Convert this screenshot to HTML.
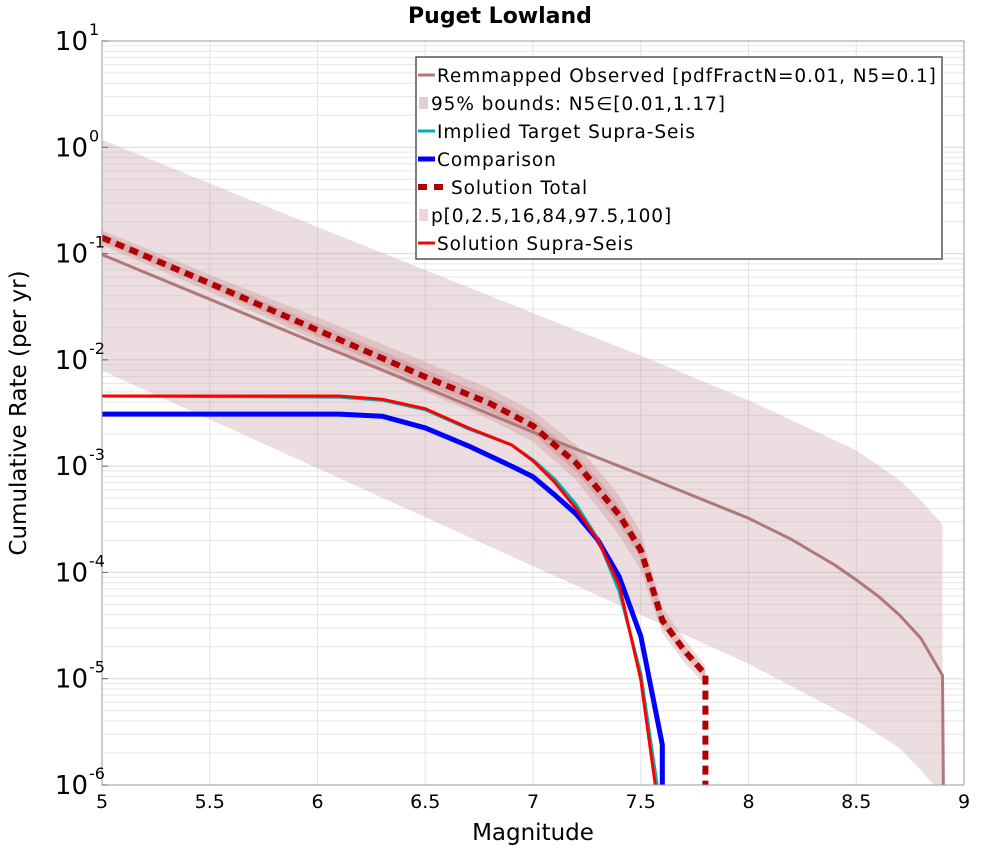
<!DOCTYPE html>
<html><head><meta charset="utf-8"><style>
html,body{margin:0;padding:0;background:#fff;}
svg{display:block;font-family:"DejaVu Sans","Liberation Sans",sans-serif;}
</style></head><body>
<svg id="chart" width="1000" height="850" viewBox="0 0 1000 850" xmlns="http://www.w3.org/2000/svg">
<text x="500" y="23" text-anchor="middle" font-size="22" font-weight="bold">Puget Lowland</text>
<text x="533" y="840" text-anchor="middle" font-size="23">Magnitude</text>
<text transform="translate(26,413) rotate(-90)" text-anchor="middle" font-size="23">Cumulative Rate (per yr)</text>
<g id="grid"></g>
<g id="series"></g>
<rect x="102" y="41" width="862" height="744" fill="none" stroke="#999" stroke-width="1"/>
<g id="axes"></g>
<g id="legend"></g>
</svg>
<script>
const xTicks=[5,5.5,6,6.5,7,7.5,8,8.5,9];
const xTickLabels=["5","5.5","6","6.5","7","7.5","8","8.5","9"];
const yDecades=[1,0,-1,-2,-3,-4,-5,-6];
const obsMags=[5,5.5,6,6.5,7,7.5,8,8.2,8.4,8.5,8.6,8.7,8.8,8.9,8.905];
const obsLog=[-1.01,-1.43,-1.85,-2.26,-2.68,-3.08,-3.49,-3.69,-3.93,-4.07,-4.22,-4.40,-4.62,-4.97,-6.5];
const boundMags=[5,6,7,7.5,8,8.5,8.7,8.8,8.9];
const boundHi=[0.07,-0.75,-1.56,-1.96,-2.38,-2.85,-3.13,-3.32,-3.55];
const boundLo=[-2.10,-3.02,-3.94,-4.40,-4.86,-5.39,-5.65,-5.86,-6.1];
const totMags=[5,5.5,6,6.5,6.8,7,7.1,7.2,7.3,7.4,7.5,7.6,7.7,7.8,7.8];
const totLog=[-0.85,-1.28,-1.72,-2.16,-2.41,-2.62,-2.80,-2.97,-3.21,-3.46,-3.79,-4.45,-4.73,-4.96,-6.3];
const pctHi=[-0.78,-1.20,-1.60,-2.02,-2.27,-2.48,-2.64,-2.80,-3.03,-3.28,-3.62,-4.33,-4.62,-4.88];
const pctLo=[-0.92,-1.36,-1.82,-2.30,-2.56,-2.77,-2.95,-3.13,-3.39,-3.65,-3.98,-4.57,-4.84,-5.06];
const pctHi2=[-0.81,-1.24,-1.66,-2.09,-2.34,-2.55,-2.72,-2.89,-3.12,-3.37,-3.71,-4.39,-4.68,-4.92];
const pctLo2=[-0.89,-1.32,-1.78,-2.23,-2.48,-2.69,-2.88,-3.05,-3.30,-3.55,-3.87,-4.51,-4.78,-5.00];
const supMags=[5,6.1,6.3,6.5,6.7,6.9,7,7.1,7.2,7.3,7.4,7.5,7.58];
const supLog=[-2.34,-2.34,-2.37,-2.46,-2.64,-2.80,-2.95,-3.15,-3.40,-3.69,-4.12,-5.01,-6.3];
const tgtMags=[5,6.1,6.3,6.5,6.7,6.9,7,7.1,7.2,7.3,7.4,7.5,7.59];
const tgtLog=[-2.34,-2.35,-2.38,-2.47,-2.65,-2.80,-2.94,-3.12,-3.36,-3.68,-4.18,-4.95,-6.3];
const cmpMags=[5,6.1,6.3,6.5,6.7,6.9,7,7.1,7.2,7.3,7.4,7.5,7.6,7.6];
const cmpLog=[-2.51,-2.51,-2.53,-2.64,-2.81,-3.0,-3.10,-3.27,-3.45,-3.69,-4.04,-4.60,-5.62,-6.3];

const X0=102,X1=964,Y0=41,Y1=785;
const xs=m=>X0+(m-5)/4*(X1-X0);
const ys=l=>Y0+(1-l)/7*(Y1-Y0);
const NS="http://www.w3.org/2000/svg";
function mk(tag,attrs,parent){const e=document.createElementNS(NS,tag);for(const k in attrs)e.setAttribute(k,attrs[k]);parent.appendChild(e);return e;}
const grid=document.getElementById('grid'),ser=document.getElementById('series'),axes=document.getElementById('axes'),leg=document.getElementById('legend');
for(let d=-6;d<1;d++){for(let k=2;k<=9;k++){const y=ys(d+Math.log10(k));
 const l=mk('line',{x1:X0,x2:X1,y1:y,y2:y,stroke:'#e6e6e6','stroke-width':1},grid);
 
 }}
yDecades.forEach(d=>{const y=ys(d);
 const l=mk('line',{x1:X0,x2:X1,y1:y,y2:y,stroke:'#d8d8d8','stroke-width':1},grid);
 
 
 const t=mk('text',{x:88,y:y+9,'text-anchor':'end','font-size':26},axes);
 
 
 t.textContent='10';
 const s=mk('text',{x:89,y:y-6,'font-size':16},axes);
 
 
 s.textContent=String(d);
 const tk=mk('line',{x1:X0,x2:X0+6,y1:y,y2:y,stroke:'#666'},axes);
 
 });
xTicks.forEach((m,i)=>{const x=xs(m);
 const l=mk('line',{x1:x,x2:x,y1:Y0,y2:Y1,stroke:'#e2e2e2','stroke-width':1},grid);
 
 
 const t=mk('text',{x:x,y:808,'text-anchor':'middle','font-size':19},axes);
 
 
 t.textContent=xTickLabels[i];});
function pts(ms,ls){return ms.map((m,i)=>xs(m).toFixed(1)+','+Math.min(ys(ls[i]),Y1+20).toFixed(1)).join(' ');}
function band(ms,hi,lo,fill,name){const n=hi.length;const top=pts(ms.slice(0,n),hi);const bot=ms.slice(0,n).map((m,i)=>xs(m).toFixed(1)+','+Math.min(ys(lo[i]),Y1+20).toFixed(1)).reverse().join(' ');
 const p=mk('polygon',{points:top+' '+bot,fill:fill},ser);
 
 }
const clip=mk('clipPath',{id:'pc'},document.getElementById('chart'));mk('rect',{x:X0,y:Y0,width:X1-X0,height:Y1-Y0},clip);
ser.setAttribute('clip-path','url(#pc)');
band(boundMags,boundHi,boundLo,'rgba(200,160,165,0.35)','bounds-95-band');
band(totMags,pctHi,pctLo,'rgba(200,130,135,0.3)','percentile-band-outer');
band(totMags,pctHi2,pctLo2,'rgba(200,120,125,0.3)','percentile-band-inner');
function line(ms,ls,color,w,name,dash){const a={points:pts(ms,ls),fill:'none',stroke:color,'stroke-width':w,'stroke-linejoin':'round'};if(dash)a['stroke-dasharray']=dash;
 const p=mk('polyline',a,ser);
 
 }
line(obsMags,obsLog,'#b07878',3,'remapped-observed-line');
line(cmpMags,cmpLog,'#0000ff',5,'comparison-line');
line(tgtMags,tgtLog,'#00b0b0',3,'implied-target-line');
line(supMags,supLog,'#ff0000',3,'solution-supra-seis-line');
line(totMags,totLog,'#b00000',6,'solution-total-line','9,6');
const lb=mk('rect',{x:416,y:57,width:526,height:202,fill:'#fff',stroke:'#555','stroke-width':1.5},leg);


const items=[['Remmapped Observed [pdfFractN=0.01, N5=0.1]','line','#b07878',3,437],['95% bounds: N5\u2208[0.01,1.17]','patch','rgba(200,160,165,0.5)',0,431],['Implied Target Supra-Seis','line','#00b0b0',3,437],['Comparison','line','#0000ff',5,437],['Solution Total','dash','#b00000',6,451],['p[0,2.5,16,84,97.5,100]','patch','rgba(220,170,175,0.5)',0,431],['Solution Supra-Seis','line','#ff0000',3,437]];
items.forEach((it,i)=>{const y=75+i*28;const g=mk('g',{},leg);
 
 
 if(it[1]==='line')mk('line',{x1:418,x2:435,y1:y,y2:y,stroke:it[2],'stroke-width':it[3]},g);
 else if(it[1]==='dash')mk('line',{x1:418,x2:449,y1:y,y2:y,stroke:it[2],'stroke-width':it[3],'stroke-dasharray':'9,7'},g);
 else mk('rect',{x:419,y:y-6,width:9,height:12,fill:it[2]},g);
 const t=mk('text',{x:it[4],y:y+7,'font-size':18.5,'letter-spacing':'0.9'},g);t.textContent=it[0];});
</script>
</body></html>
